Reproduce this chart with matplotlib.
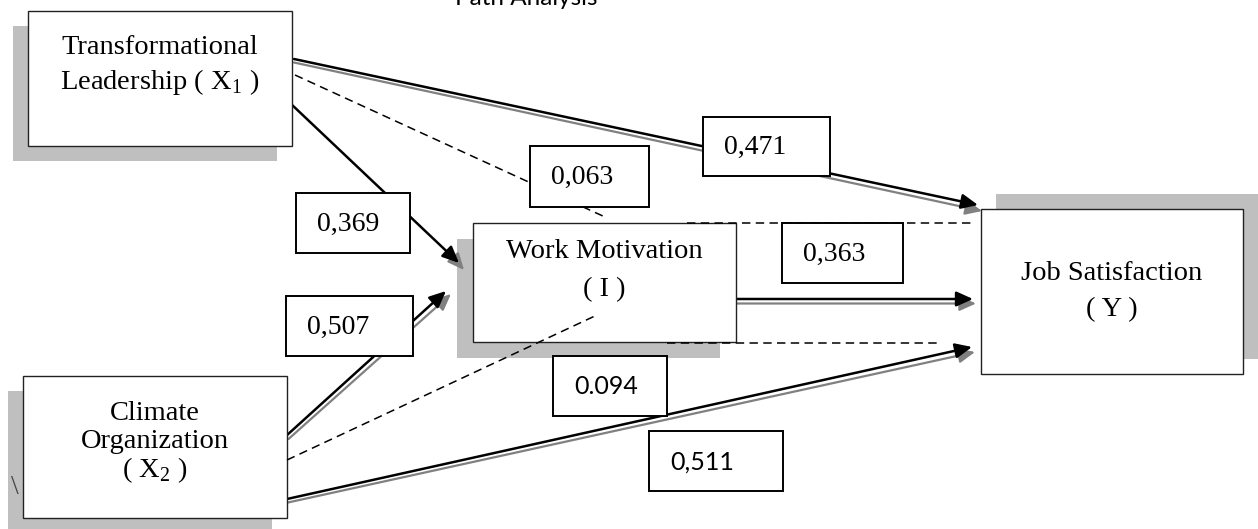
import matplotlib.pyplot as plt
from matplotlib.patches import Rectangle, FancyArrowPatch

plt.rcParams['mathtext.fontset'] = 'custom'
plt.rcParams['mathtext.rm'] = 'Liberation Serif'

title = "Path Analysis"

# variables of the model (one entry per line of text in the box)
node_keys = ["X1", "X2", "I", "Y"]
node_text = {
    "X1": ["Transformational", r"Leadership ( $\mathrm{X}_1$ )"],
    "X2": ["Climate", "Organization", r"( $\mathrm{X}_2$ )"],
    "I": ["Work Motivation", "( I )"],
    "Y": ["Job Satisfaction", "( Y )"],
}

# path coefficients as printed on the diagram
path_from = ["X1", "X1", "X1", "X2", "I", "X2", "X2"]
path_to = ["Y", "I-Y", "I", "I", "Y", "I-Y", "Y"]
coef_labels = ["0,471", "0,063", "0,369", "0,507", "0,363", "0.094", "0,511"]
coef_font = ["serif", "serif", "serif", "serif", "serif", "sans", "sans"]

# ---- layout (pixel coordinates, y going down) ----
box_xy = {"X1": (28, 11, 292, 146), "X2": (23, 376, 287, 518),
          "I": (473, 223, 736, 342), "Y": (981, 209, 1243, 374)}
shadow_off = {"X1": (-15, 15), "X2": (-15, 15), "I": (-16, 16), "Y": (15, -15)}
text_y = {"X1": [47, 82], "X2": [413, 442, 470], "I": [252, 290], "Y": [274, 310]}

coef_box = [(703, 117, 830, 176), (530, 146, 649, 207), (296, 193, 410, 253),
            (286, 296, 413, 356), (782, 223, 903, 283), (553, 356, 667, 416),
            (649, 431, 783, 491)]

# black arrow + grey "shadow" arrow for direct paths
solid_paths = [
    ((294, 59), (978, 205), (294, 62.5), (982, 211)),
    ((290, 103), (459, 263), (452, 256), (464, 270)),
    ((286, 436), (446, 291), (288.5, 439), (451, 294)),
    ((736, 299), (973, 299), (736, 303.5), (976, 303.5)),
    ((287, 499), (972, 347), (288, 502.5), (975, 352)),
]
dashed_paths = [
    ((295, 75), (605, 217)),
    ((687, 223), (973, 223)),
    ((287, 460), (597, 315)),
    ((667, 343), (940, 343)),
]

fig = plt.figure(figsize=(12.58, 5.29), dpi=100)
ax = fig.add_axes([0, 0, 1, 1])
ax.set_xlim(0, 1258)
ax.set_ylim(529, 0)
ax.axis('off')

serif = 'Liberation Serif'
sans = 'Lato'
head = '-|>,head_length=10,head_width=4.5'

# boxes of the variables with their grey shadows
for k in node_keys:
    x0, y0, x1, y1 = box_xy[k]
    dx, dy = shadow_off[k]
    ax.add_patch(Rectangle((x0 + dx, y0 + dy), x1 - x0, y1 - y0,
                           facecolor='#bfbfbf', edgecolor='none', zorder=1))
    ax.add_patch(Rectangle((x0, y0), x1 - x0, y1 - y0, facecolor='white',
                           edgecolor='#222222', linewidth=1.0, zorder=4))
    cx = (x0 + x1) / 2
    for line, ty in zip(node_text[k], text_y[k]):
        ax.text(cx, ty, line, fontfamily=serif, fontsize=20.5, ha='center',
                va='center', zorder=8)

# direct paths
for b0, b1, g0, g1 in solid_paths:
    ax.add_patch(FancyArrowPatch(g0, g1, arrowstyle=head, mutation_scale=1,
                                 color='#808080', linewidth=1.6,
                                 shrinkA=0, shrinkB=0, zorder=2))
    ax.add_patch(FancyArrowPatch(b0, b1, arrowstyle=head, mutation_scale=1,
                                 color='black', linewidth=1.8,
                                 shrinkA=0, shrinkB=0, zorder=3))

# indirect paths
for p0, p1 in dashed_paths:
    ax.plot([p0[0], p1[0]], [p0[1], p1[1]], color='black', linewidth=1.1,
            linestyle=(0, (5.5, 3.5)), zorder=5)

# coefficient labels
for lab, fnt, (x0, y0, x1, y1) in zip(coef_labels, coef_font, coef_box):
    ax.add_patch(Rectangle((x0, y0), x1 - x0, y1 - y0, facecolor='white',
                           edgecolor='black', linewidth=1.4, zorder=6))
    if fnt == 'serif':
        ax.text(x0 + 21, (y0 + y1) / 2 + 1, lab, fontfamily=serif,
                fontsize=20, ha='left', va='center', zorder=8)
    else:
        ax.text(x0 + 21, (y0 + y1) / 2 + 1, lab, fontfamily=sans,
                fontsize=18, ha='left', va='center', zorder=8)

ax.text(526, 5, title, fontfamily=sans, fontsize=17.5, ha='center',
        va='baseline', zorder=8)
ax.text(15, 488, "\\", fontfamily=serif, fontsize=20, color='#444444',
        ha='center', va='center', zorder=8)

fig.savefig('out.png', dpi=100)
